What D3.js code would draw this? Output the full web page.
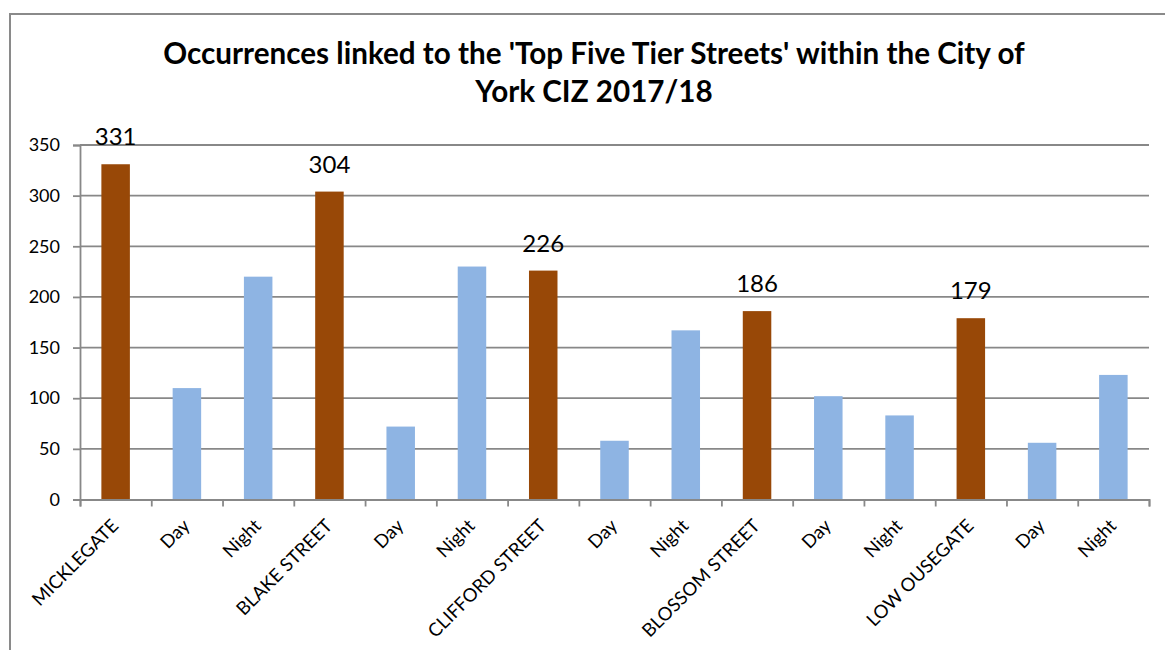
<!DOCTYPE html>
<html>
<head>
<meta charset="utf-8">
<script src="https://cdn.jsdelivr.net/npm/d3@7"></script>
<style>
  html, body { margin: 0; padding: 0; background: #fff; }
  svg { display: block; font-family: Lato, 'Open Sans', sans-serif; }
</style>
</head>
<body>
<svg id="chart" width="1165" height="650"></svg>
<script>
// chart data
const categories = ['MICKLEGATE', 'Day', 'Night', 'BLAKE STREET', 'Day', 'Night',
  'CLIFFORD STREET', 'Day', 'Night', 'BLOSSOM STREET', 'Day', 'Night',
  'LOW OUSEGATE', 'Day', 'Night'];
const values = [331, 110, 220, 304, 72, 230, 226, 58, 167, 186, 102, 83, 179, 56, 123];
const kinds = ['street', 'day', 'night', 'street', 'day', 'night', 'street', 'day', 'night',
  'street', 'day', 'night', 'street', 'day', 'night'];
const yTicks = [0, 50, 100, 150, 200, 250, 300, 350];
const titleLines = ["Occurrences linked to the 'Top Five Tier Streets' within the City of", 'York CIZ 2017/18'];

const svg = d3.select('#chart');
const plotLeft = 80, plotRight = 1149, plotTop = 145, plotBottom = 499.5;
const grey = '#888';

// outer frame (runs off the right / bottom edge like the source)
svg.append('rect')
  .attr('x', 10).attr('y', 14)
  .attr('width', 1200).attr('height', 700)
  .attr('fill', 'none')
  .attr('stroke', '#8a8a8a')
  .attr('stroke-width', 2);

// title
const title = svg.append('text')
  .attr('text-anchor', 'middle')
  .attr('font-weight', 'bold')
  .attr('font-size', 100)
  .attr('fill', '#000');
title.selectAll('tspan')
  .data(titleLines)
  .enter()
  .append('tspan')
  .attr('x', 594)
  .attr('y', (d, i) => 64 + i * 38)
  .text(d => d);
const w0 = title.select('tspan').node().getComputedTextLength();
title.attr('font-size', 100 * 862 / w0);

const idx = d3.range(categories.length);

const x = d3.scaleBand()
  .domain(idx)
  .range([plotLeft, plotRight])
  .paddingInner(0.6)
  .paddingOuter(0.3);

const y = d3.scaleLinear()
  .domain([0, 350])
  .range([plotBottom, plotTop]);

// gridlines
svg.append('g')
  .selectAll('line')
  .data(yTicks.slice(1))
  .enter()
  .append('line')
  .attr('x1', plotLeft).attr('x2', plotRight)
  .attr('y1', d => y(d)).attr('y2', d => y(d))
  .attr('stroke', grey)
  .attr('stroke-width', 1.8);

// y axis
const yAxis = svg.append('g')
  .attr('transform', `translate(${plotLeft},0)`)
  .call(d3.axisLeft(y).tickValues(yTicks).tickSize(7).tickPadding(13));
yAxis.select('.domain').attr('stroke', grey).attr('stroke-width', 1.8);
yAxis.selectAll('.tick line').attr('stroke', grey).attr('stroke-width', 1.8);
yAxis.selectAll('.tick text')
  .attr('font-family', 'Lato, sans-serif')
  .attr('font-size', 18)
  .attr('fill', '#000');

// bars
const colors = {street: '#984807', day: '#8eb4e3', night: '#8eb4e3'};

svg.append('g')
  .selectAll('rect')
  .data(idx)
  .enter()
  .append('rect')
  .attr('x', i => x(i))
  .attr('y', i => y(values[i]))
  .attr('width', x.bandwidth())
  .attr('height', i => y(0) - y(values[i]))
  .attr('fill', i => colors[kinds[i]]);

// street totals above the brown bars
svg.append('g')
  .selectAll('text')
  .data(idx.filter(i => kinds[i] === 'street'))
  .enter()
  .append('text')
  .attr('x', i => x(i) + x.bandwidth() / 2)
  .attr('y', i => y(values[i]) - 19)
  .attr('text-anchor', 'middle')
  .attr('font-size', 24)
  .attr('fill', '#000')
  .text(i => values[i]);

// x axis: boundary ticks
const xEdge = d3.scaleLinear().domain([0, categories.length]).range([plotLeft, plotRight]);
const xAxis = svg.append('g')
  .attr('transform', `translate(0,${plotBottom})`)
  .call(d3.axisBottom(xEdge).ticks(categories.length).tickSize(7).tickFormat(''));
xAxis.select('.domain').attr('stroke', grey).attr('stroke-width', 1.8);
xAxis.selectAll('.tick line').attr('stroke', grey).attr('stroke-width', 1.8);

// rotated category labels
svg.append('g')
  .selectAll('text')
  .data(idx)
  .enter()
  .append('text')
  .attr('transform', i => `translate(${x(i) + x.bandwidth() / 2 + 4},527) rotate(-45)`)
  .attr('text-anchor', 'end')
  .attr('font-size', 18.5)
  .attr('fill', '#000')
  .text(i => categories[i]);
</script>
</body>
</html>
